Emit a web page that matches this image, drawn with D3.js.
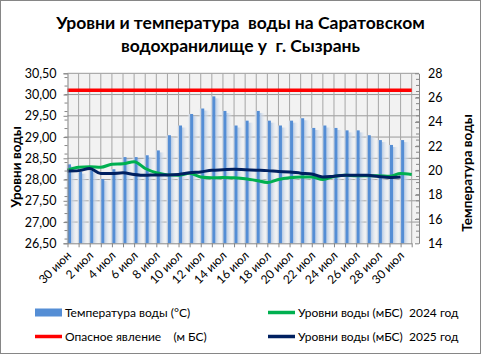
<!DOCTYPE html>
<html>
<head>
<meta charset="utf-8">
<script src="https://cdn.jsdelivr.net/npm/d3@7"></script>
<style>
body { margin: 0; background: #fff; }
svg { font-family: Lato, "Open Sans", sans-serif; }
</style>
</head>
<body>
<div id="chart"></div>
<script>
var dates = ["30 июн", "1 июл", "2 июл", "3 июл", "4 июл", "5 июл", "6 июл", "7 июл",
    "8 июл", "9 июл", "10 июл", "11 июл", "12 июл", "13 июл", "14 июл", "15 июл",
    "16 июл", "17 июл", "18 июл", "19 июл", "20 июл", "21 июл", "22 июл", "23 июл",
    "24 июл", "25 июл", "26 июл", "27 июл", "28 июл", "29 июл", "30 июл", "31 июл"];

// температура воды, °C (правая ось)
var temperature = [20.5, 19.9, 20.0, 19.3, 20.1, 21.1, 21.1, 21.25, 21.65, 22.9, 23.7,
    24.65, 25.1, 26.1, 24.9, 23.7, 24.1, 24.9, 24.1, 23.7, 24.1, 24.3, 23.5, 23.7,
    23.5, 23.3, 23.3, 22.9, 22.5, 22.1, 22.5];

// уровни воды, мБС (левая ось)
var level2024 = [28.22, 28.29, 28.30, 28.29, 28.36, 28.37, 28.42, 28.26, 28.16, 28.11,
    28.10, 28.15, 28.06, 28.04, 28.05, 28.04, 28.02, 27.98, 27.93, 28.00, 28.04, 28.06,
    28.06, 28.00, 28.07, 28.10, 28.09, 28.09, 28.09, 28.08, 28.14, 28.12];

var level2025 = [28.20, 28.21, 28.26, 28.14, 28.14, 28.16, 28.12, 28.10, 28.11, 28.11,
    28.12, 28.16, 28.18, 28.22, 28.23, 28.24, 28.23, 28.22, 28.21, 28.19, 28.18, 28.15,
    28.13, 28.06, 28.08, 28.10, 28.10, 28.10, 28.07, 28.05, 28.06];

var dangerLevel = [30.10, 30.10, 30.10, 30.10, 30.10, 30.10, 30.10, 30.10, 30.10, 30.10,
    30.10, 30.10, 30.10, 30.10, 30.10, 30.10, 30.10, 30.10, 30.10, 30.10, 30.10, 30.10,
    30.10, 30.10, 30.10, 30.10, 30.10, 30.10, 30.10, 30.10, 30.10, 30.10];

var leftTicks = [26.5, 27.0, 27.5, 28.0, 28.5, 29.0, 29.5, 30.0, 30.5];
var rightTicks = [14, 16, 18, 20, 22, 24, 26, 28];

var W = 481, H = 354;
var plot = { left: 67.5, top: 73.3, width: 351.5, height: 170 };

// двойные пробелы как в оригинале
var nb = function (s) { return s.replace(/ {2}/g, " \u00a0"); };

var svg = d3.select("#chart").append("svg")
    .attr("width", W)
    .attr("height", H);

svg.append("rect")
    .attr("x", 0.5).attr("y", 0.5)
    .attr("width", W - 1).attr("height", H - 1)
    .attr("fill", "#fff")
    .attr("stroke", "#868686");

var defs = svg.append("defs");
var grad = defs.append("linearGradient").attr("id", "barShade");
grad.append("stop").attr("offset", "0%").attr("stop-color", "#b3c8e4");
grad.append("stop").attr("offset", "100%").attr("stop-color", "#f2f2f2").attr("stop-opacity", 0);
var gradL = defs.append("linearGradient").attr("id", "barShadeL");
gradL.append("stop").attr("offset", "0%").attr("stop-color", "#f2f2f2").attr("stop-opacity", 0);
gradL.append("stop").attr("offset", "100%").attr("stop-color", "#c9d8ec");

var g = svg.append("g")
    .attr("transform", "translate(" + plot.left + "," + plot.top + ")");

g.append("rect")
    .attr("width", plot.width)
    .attr("height", plot.height)
    .attr("fill", "#f2f2f2");

var x = d3.scalePoint().domain(dates).range([0, 344.2]);
var yL = d3.scaleLinear().domain([26.5, 30.5]).range([plot.height, 0]);
var yR = d3.scaleLinear().domain([14, 28]).range([plot.height, 0]);

// сетка
g.append("g").selectAll("line")
    .data(leftTicks.slice(1))
    .join("line")
    .attr("x1", 0).attr("x2", plot.width)
    .attr("y1", function (d) { return yL(d); })
    .attr("y2", function (d) { return yL(d); })
    .attr("stroke", "#999");

g.append("g").selectAll("line")
    .data(dates.slice(1))
    .join("line")
    .attr("x1", function (d) { return x(d); })
    .attr("x2", function (d) { return x(d); })
    .attr("y1", 0).attr("y2", plot.height)
    .attr("stroke", "#a6a6a6");

// столбцы температуры
var bars = g.append("g");
bars.selectAll(".shadeL")
    .data(temperature)
    .join("rect")
    .attr("class", "shadeL")
    .attr("x", function (d, i) { return x(dates[i]) - 2.5; })
    .attr("width", 3)
    .attr("y", function (d) { return yR(d); })
    .attr("height", function (d) { return plot.height - yR(d); })
    .attr("fill", "url(#barShadeL)");
bars.selectAll(".shade")
    .data(temperature)
    .join("rect")
    .attr("class", "shade")
    .attr("x", function (d, i) { return x(dates[i]) + 3.5; })
    .attr("width", 6)
    .attr("y", function (d) { return yR(d) + 2; })
    .attr("height", function (d) { return plot.height - yR(d) - 2; })
    .attr("fill", "url(#barShade)");
bars.selectAll(".bar")
    .data(temperature)
    .join("rect")
    .attr("class", "bar")
    .attr("x", function (d, i) { return x(dates[i]) + 0.5; })
    .attr("width", 3)
    .attr("y", function (d) { return yR(d); })
    .attr("height", function (d) { return plot.height - yR(d); })
    .attr("fill", "#558ed5");

// линии
var lineL = d3.line()
    .x(function (d, i) { return x(dates[i]); })
    .y(function (d) { return yL(d); })
    .curve(d3.curveMonotoneX);

g.append("path").datum(dangerLevel)
    .attr("d", lineL).attr("fill", "none")
    .attr("stroke", "#ff0000").attr("stroke-width", 3.5);
g.append("path").datum(level2024)
    .attr("d", lineL).attr("fill", "none")
    .attr("stroke", "#00b050").attr("stroke-width", 3);
g.append("path").datum(level2025)
    .attr("d", lineL).attr("fill", "none")
    .attr("stroke", "#002060").attr("stroke-width", 3);

// оси
var commaFmt = function (d) { return d3.format(".2f")(d).replace(".", ","); };

var axL = g.append("g")
    .call(d3.axisLeft(yL).tickValues(leftTicks).tickSize(4).tickPadding(7).tickFormat(commaFmt));
axL.append("g").selectAll("line")
    .data(d3.range(26.6, 30.45, 0.2))
    .join("line")
    .attr("x1", -3).attr("x2", 0)
    .attr("y1", function (d) { return yL(d); })
    .attr("y2", function (d) { return yL(d); });

var axR = g.append("g")
    .attr("transform", "translate(" + plot.width + ",0)")
    .call(d3.axisRight(yR).tickValues(rightTicks).tickSizeInner(-4).tickSizeOuter(0).tickPadding(9));
axR.append("g").selectAll("line")
    .data(d3.range(14.5, 28, 0.5))
    .join("line")
    .attr("x1", -3).attr("x2", 0)
    .attr("y1", function (d) { return yR(d); })
    .attr("y2", function (d) { return yR(d); });

var axX = g.append("g")
    .attr("transform", "translate(0," + plot.height + ")")
    .call(d3.axisBottom(x).tickSize(4).tickSizeOuter(0)
        .tickFormat(function (d, i) { return i % 2 ? "" : d; }));
axX.selectAll("text")
    .attr("x", 0).attr("y", 0).attr("dy", 0)
    .attr("text-anchor", "end")
    .attr("transform", "translate(4,13) rotate(-45)");

[axL, axR, axX].forEach(function (a) {
    a.selectAll("path, line").attr("stroke", "#868686");
    a.selectAll("text").attr("fill", "#000").style("font-size", "12.5px")
        .style("font-family", "Lato, sans-serif");
});
axX.selectAll("text").style("font-size", "12px");

// заголовки
var title = svg.append("g").attr("font-weight", "bold").attr("text-anchor", "middle")
    .style("font-size", "17.5px");
title.append("text").attr("x", 240.5).attr("y", 29).text(nb("Уровни и температура  воды на Саратовском"));
title.append("text").attr("x", 240.5).attr("y", 52).text(nb("водохранилище у  г. Сызрань"));

svg.append("text")
    .attr("transform", "translate(21,167) rotate(-90)")
    .attr("text-anchor", "middle").attr("font-weight", "bold")
    .style("font-size", "13.5px")
    .text("Уровни воды");
svg.append("text")
    .attr("transform", "translate(472,173) rotate(-90)")
    .attr("text-anchor", "middle").attr("font-weight", "bold")
    .style("font-size", "13.5px")
    .text("Температура воды");

// легенда
var legend = svg.append("g").style("font-size", "12px");
var items = [
    { label: "Температура воды (°C)", color: "#558ed5", type: "bar", x: 35, y: 312.5 },
    { label: "Уровни воды (мБС)  2024 год", color: "#00b050", type: "line", x: 268, y: 312.5 },
    { label: "Опасное явление    (м БС)", color: "#ff0000", type: "line", x: 35, y: 336.5 },
    { label: "Уровни воды (мБС)  2025 год", color: "#002060", type: "line", x: 268, y: 336.5 }
];
items.forEach(function (it) {
    if (it.type === "bar") {
        legend.append("rect").attr("x", it.x).attr("y", it.y - 4)
            .attr("width", 27).attr("height", 8).attr("fill", it.color);
    } else {
        legend.append("line").attr("x1", it.x).attr("x2", it.x + 27)
            .attr("y1", it.y).attr("y2", it.y)
            .attr("stroke", it.color).attr("stroke-width", 3.5);
    }
    legend.append("text").attr("x", it.x + 30).attr("y", it.y + 4.5)
        .text(it.label.replace(/ {2,}/g, function (s) { return " " + "\u00a0".repeat(s.length - 1); }));
});
</script>
</body>
</html>
